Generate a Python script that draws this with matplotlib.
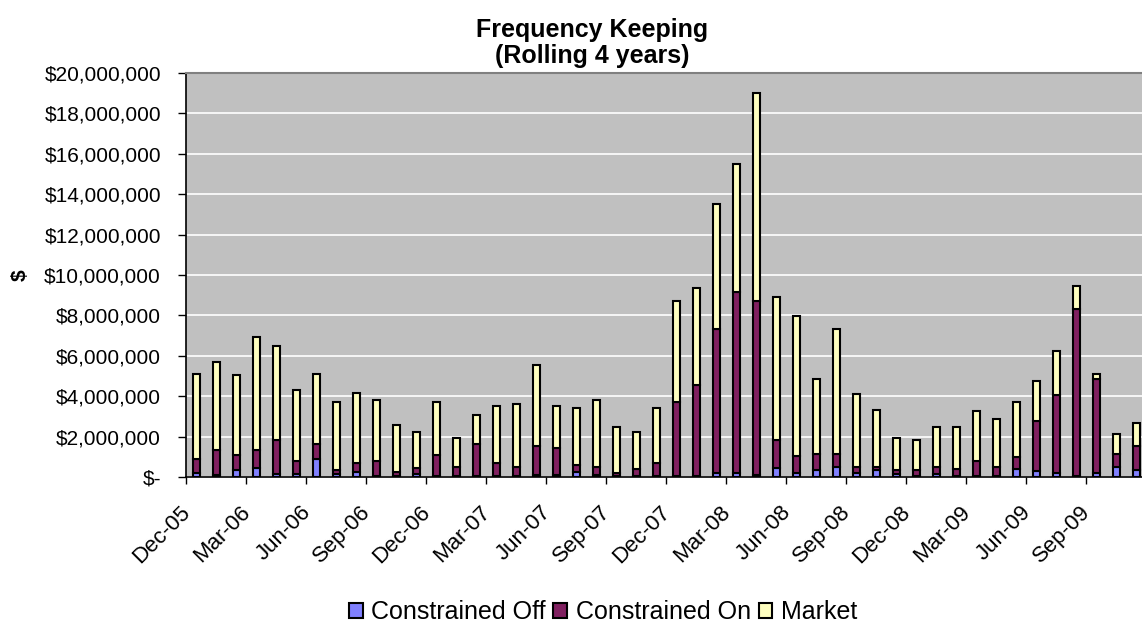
import numpy as np
import matplotlib
matplotlib.use('Agg')
import matplotlib.pyplot as plt
from matplotlib.transforms import ScaledTranslation

plt.rcParams['font.family'] = ['Liberation Sans', 'DejaVu Sans']

# monthly frequency keeping costs, Dec-05 .. Nov-09 ($)
months = ['Dec-05', 'Jan-06', 'Feb-06', 'Mar-06', 'Apr-06', 'May-06', 'Jun-06', 'Jul-06',
          'Aug-06', 'Sep-06', 'Oct-06', 'Nov-06', 'Dec-06', 'Jan-07', 'Feb-07', 'Mar-07',
          'Apr-07', 'May-07', 'Jun-07', 'Jul-07', 'Aug-07', 'Sep-07', 'Oct-07', 'Nov-07',
          'Dec-07', 'Jan-08', 'Feb-08', 'Mar-08', 'Apr-08', 'May-08', 'Jun-08', 'Jul-08',
          'Aug-08', 'Sep-08', 'Oct-08', 'Nov-08', 'Dec-08', 'Jan-09', 'Feb-09', 'Mar-09',
          'Apr-09', 'May-09', 'Jun-09', 'Jul-09', 'Aug-09', 'Sep-09', 'Oct-09', 'Nov-09']

constrained_off = [210000, 120000, 330000, 430000, 130000, 130000, 910000, 130000,
                   230000, 70000, 70000, 130000, 50000, 30000, 50000, 50000,
                   30000, 120000, 120000, 230000, 120000, 30000, 30000, 30000,
                   30000, 30000, 210000, 210000, 120000, 430000, 210000, 330000,
                   500000, 210000, 330000, 130000, 30000, 130000, 30000, 30000,
                   30000, 410000, 300000, 210000, 30000, 210000, 500000, 330000]

constrained_on = [700000, 1240000, 740000, 930000, 1690000, 660000, 740000, 230000,
                  460000, 720000, 160000, 330000, 1020000, 470000, 1570000, 640000,
                  470000, 1420000, 1330000, 350000, 380000, 180000, 380000, 660000,
                  3690000, 4520000, 7100000, 8960000, 8590000, 1390000, 850000, 830000,
                  660000, 290000, 170000, 200000, 300000, 370000, 380000, 760000,
                  470000, 570000, 2460000, 3870000, 8300000, 4630000, 660000, 1190000]

market = [4210000, 4340000, 3970000, 5580000, 4660000, 3510000, 3470000, 3360000,
          3490000, 3010000, 2330000, 1770000, 2650000, 1430000, 1440000, 2830000,
          3120000, 3980000, 2070000, 2840000, 3300000, 2270000, 1800000, 2730000,
          4990000, 4810000, 6210000, 6320000, 10280000, 7070000, 6890000, 3680000,
          6150000, 3600000, 2840000, 1600000, 1520000, 1980000, 2070000, 2470000,
          2380000, 2740000, 2000000, 2180000, 1140000, 280000, 960000, 1170000]

x = np.arange(len(months))
off = np.array(constrained_off)
on = np.array(constrained_on)
mkt = np.array(market)

W, H = 1142, 624
fig = plt.figure(figsize=(W / 100, H / 100), dpi=100)
ax = fig.add_axes([186 / W, 1 - 477 / H, 960 / W, 404 / H])
ax.set_facecolor('#C0C0C0')

bw = 0.35
kw = dict(width=bw, edgecolor='black', linewidth=1.5, zorder=3)
ax.bar(x, off, color='#8080FF', label='Constrained Off', **kw)
ax.bar(x, on, bottom=off, color='#802060', label='Constrained On', **kw)
ax.bar(x, mkt, bottom=off + on, color='#FFFFC0', label='Market', **kw)

ax.set_xlim(-0.5, len(months) - 0.5)
ax.set_ylim(0, 20000000)

yt = np.arange(0, 20000001, 2000000)
ax.set_yticks(yt)
ax.set_yticklabels(['$-' if v == 0 else '${:,.0f}'.format(v) for v in yt], fontsize=15)
ax.yaxis.grid(True, color='white', linewidth=1.2, zorder=0)
ax.set_axisbelow(True)

# ticks on quarter boundaries, labels every third month
pos = np.arange(0, len(months), 3) - 0.5
ax.set_xticks(pos)
ax.set_xticklabels([months[i] for i in range(0, len(months), 3)], fontsize=16,
                   rotation=45, ha='right', va='center', rotation_mode='anchor')
ax.tick_params(axis='x', length=5, width=1, pad=18)
ax.tick_params(axis='y', length=6, width=1, pad=12)
shift = ScaledTranslation(1 / 72, 0, fig.dpi_scale_trans)
for lab in ax.get_xticklabels():
    lab.set_transform(lab.get_transform() + shift)

for s in ['left', 'bottom']:
    ax.spines[s].set_color('black')
    ax.spines[s].set_linewidth(1.2)
for s in ['top', 'right']:
    ax.spines[s].set_color('#808080')
    ax.spines[s].set_linewidth(1.5)

fig.text(592 / W, 1 - 68 / H, 'Frequency Keeping\n(Rolling 4 years)', ha='center', va='bottom',
         fontsize=18, fontweight='bold', linespacing=1.1)
fig.text(20 / W, 1 - 275 / H, '$', rotation=90, ha='center', va='center',
         fontsize=15, fontweight='bold')

fig.legend(loc='center', bbox_to_anchor=(603 / W, 1 - 612 / H), ncol=3, frameon=False,
           fontsize=18, handlelength=0.55, handleheight=0.55, handletextpad=0.35,
           columnspacing=0.3, borderpad=0)

plt.savefig('out.png', dpi=100)
